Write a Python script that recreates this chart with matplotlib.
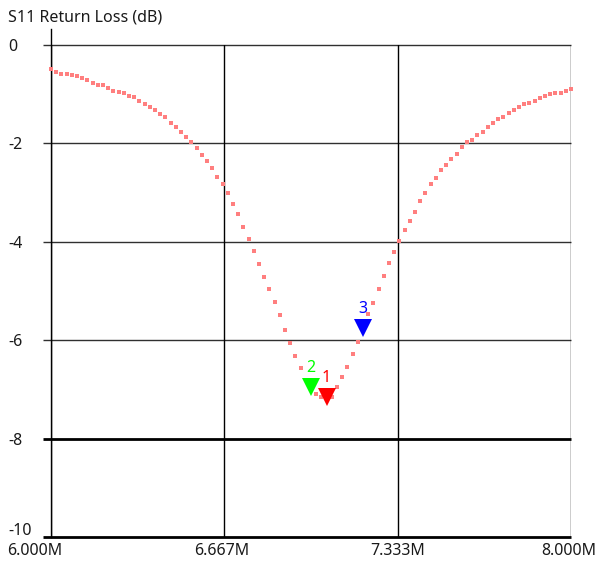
import numpy as np
from matplotlib import pyplot as plt
from matplotlib.transforms import offset_copy

W, H = 598, 568

# sweep 6 - 8 MHz, 101 points
F_START = 6.0
F_STOP = 8.0
N_POINTS = 101
freqs = np.linspace(F_START, F_STOP, N_POINTS)

s11_db = [
    -0.49, -0.55, -0.58, -0.58, -0.60, -0.63, -0.68, -0.71, -0.77, -0.81,
    -0.82, -0.87, -0.93, -0.95, -0.98, -1.04, -1.06, -1.13, -1.20, -1.25,
    -1.32, -1.41, -1.47, -1.58, -1.67, -1.76, -1.88, -1.97, -2.10, -2.23,
    -2.35, -2.51, -2.68, -2.83, -3.01, -3.23, -3.43, -3.69, -3.94, -4.19,
    -4.46, -4.72, -4.96, -5.22, -5.49, -5.79, -6.06, -6.33, -6.57, -6.80,
    -7.00, -7.10, -7.15, -7.20, -7.15, -6.96, -6.75, -6.54, -6.28, -6.04,
    -5.79, -5.47, -5.25, -4.95, -4.69, -4.44, -4.21, -3.98, -3.77, -3.58,
    -3.39, -3.18, -3.01, -2.83, -2.71, -2.55, -2.43, -2.31, -2.21, -2.08,
    -1.98, -1.93, -1.82, -1.76, -1.67, -1.59, -1.51, -1.46, -1.39, -1.32,
    -1.26, -1.20, -1.17, -1.13, -1.07, -1.04, -1.00, -0.97, -0.97, -0.93,
    -0.89,
]

marker_names = ["1", "2", "3"]
marker_idx = [53, 50, 60]
marker_colors = ["#ff0000", "#00ff00", "#0000ff"]

y_ticks = [0, -2, -4, -6, -8, -10]
x_ticks = [6.0, 6.667, 7.333, 8.0]
x_labels = ["6.000M", "6.667M", "7.333M", "8.000M"]

FONT = "Noto Sans"
FS = 11.5


def px(x, y):
    return x / W, 1 - y / H


fig = plt.figure(figsize=(W / 100, H / 100), dpi=100)
left, top = px(51, 45)
right, bottom = px(571, 537)
ax = fig.add_axes([left, bottom, right - left, top - bottom])
ax.set_xlim(F_START, F_STOP)
ax.set_ylim(-10, 0)
ax.axis("off")

# grid
for v in y_ticks:
    thick = v in (-8, -10)
    ax.plot([F_START - 8 / 260, F_STOP], [v, v], color="black" if thick else "#303030",
            lw=2 if thick else 1, clip_on=False, solid_capstyle="butt", zorder=1)
for f in x_ticks:
    ax.plot([f, f], [-10, 0], color="black", lw=1, zorder=1)
# left axis goes a bit above the 0 line
ax.plot([F_START, F_START], [-10, 16 / 49.2], color="black", lw=1, clip_on=False, zorder=1)

ax.plot(freqs, s11_db, ls="none", marker="s", ms=3.4, mew=0, color="#ff7f7f", zorder=2,
        clip_on=False)

tri_tr = offset_copy(ax.transData, fig=fig, x=0, y=2, units="dots")
lbl_tr = offset_copy(ax.transData, fig=fig, x=0, y=21, units="dots")
for name, i, c in zip(marker_names, marker_idx, marker_colors):
    ax.plot(freqs[i], s11_db[i], marker="v", ms=13.5, mew=0, color=c, transform=tri_tr,
            zorder=3)
    ax.text(freqs[i], s11_db[i], name, color=c, fontsize=FS, family=FONT,
            ha="center", va="center", transform=lbl_tr, zorder=4)

fig.text(*px(8, 17), "S11 Return Loss (dB)", fontsize=FS, family=FONT,
         color="#1a1a1a", ha="left", va="center")

for v in y_ticks:
    yy = 45 - v * 49.2 + (-6 if v == -10 else 2)
    fig.text(*px(8, yy), str(v), fontsize=FS, family=FONT, color="#1a1a1a",
             ha="left", va="center")

x_pos = [35, 222, 398, 569]
for xp, lab in zip(x_pos, x_labels):
    fig.text(*px(xp, 551), lab, fontsize=FS, family=FONT, color="#1a1a1a",
             ha="center", va="center")

fig.savefig("out.png", dpi=100, facecolor="white")
